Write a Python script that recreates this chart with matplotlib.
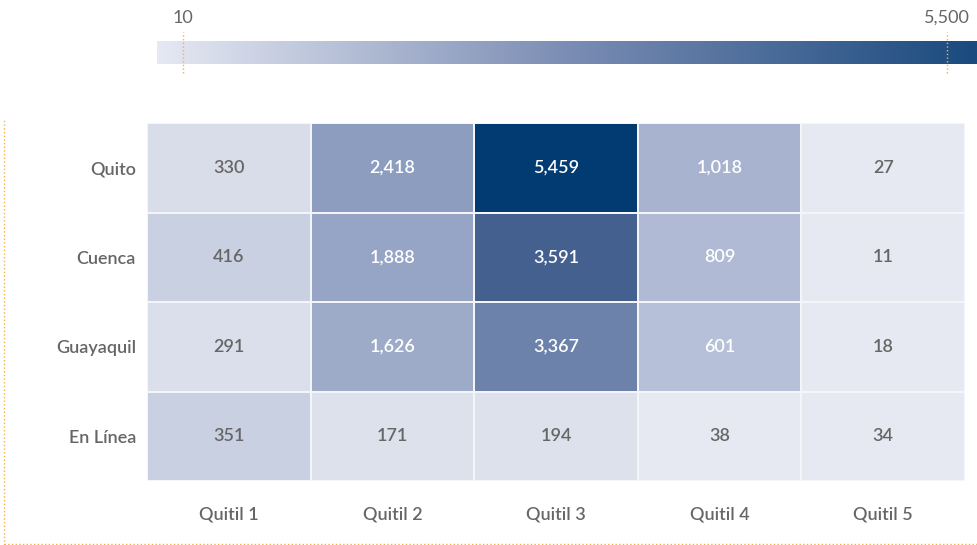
import numpy as np
import matplotlib
matplotlib.use("Agg")
import matplotlib.pyplot as plt
from matplotlib.colors import LinearSegmentedColormap, Normalize, to_rgb
from matplotlib.lines import Line2D

# ---- data ----
rows = ["Quito", "Cuenca", "Guayaquil", "En Línea"]
cols = ["Quitil 1", "Quitil 2", "Quitil 3", "Quitil 4", "Quitil 5"]
quito = [330, 2418, 5459, 1018, 27]
cuenca = [416, 1888, 3591, 809, 11]
guayaquil = [291, 1626, 3367, 601, 18]
en_linea = [351, 171, 194, 38, 34]
scale_min, scale_max = 10, 5500
scale_ticks = [10, 5500]

values = np.array([quito, cuenca, guayaquil, en_linea], dtype=float)

# ---- styles ----
W, H = 977, 545
font = ["Lato", "DejaVu Sans"]
label_color = "#666666"
dot_color = "#f2b33d"
weight = 600
fs = 13

cell_stops = [
    (0.000, "#e6e9f1"), (0.006, "#e6e9f1"), (0.028, "#dde1ec"),
    (0.050, "#dbdfeb"), (0.059, "#d9dde9"), (0.061, "#c9d0e2"),
    (0.075, "#c9d0e2"), (0.108, "#b6c0d8"), (0.146, "#b0bad4"),
    (0.184, "#a8b3cf"), (0.294, "#9eabc8"), (0.342, "#96a4c5"),
    (0.439, "#8d9dbf"), (0.611, "#6e82ab"), (0.652, "#43608f"),
    (1.000, "#003a70"),
]
cell_cmap = LinearSegmentedColormap.from_list("cells", cell_stops, N=4096)
bar_cmap = LinearSegmentedColormap.from_list(
    "bar", ["#e6e9f3", "#7b8db4", "#1a4a7e"])
norm = Normalize(vmin=scale_min, vmax=scale_max)

fig = plt.figure(figsize=(W / 100, H / 100), dpi=100)
fig.patch.set_facecolor("white")

def px_axes(x0, y0, x1, y1):
    return fig.add_axes([x0 / W, 1 - y1 / H, (x1 - x0) / W, (y1 - y0) / H])

# ---- heatmap ----
ax = px_axes(147, 123, 965, 481)
ax.pcolormesh(values, cmap=cell_cmap, norm=norm, edgecolors="#f4f5f9",
              linewidth=0.3)
ax.set_xlim(0, len(cols))
ax.set_ylim(len(rows), 0)
for s in ax.spines.values():
    s.set_visible(False)
ax.set_xticks(np.arange(len(cols)) + 0.5)
ax.set_xticklabels(cols, family=font, fontsize=fs, color=label_color,
                   fontweight=weight)
ax.set_yticks(np.arange(len(rows)) + 0.5)
ax.set_yticklabels(rows, family=font, fontsize=fs, color=label_color,
                   fontweight=weight)
ax.tick_params(length=0)
ax.tick_params(axis="x", pad=18)
ax.tick_params(axis="y", pad=8)

for i in range(len(rows)):
    for j in range(len(cols)):
        v = values[i, j]
        r, g, b = to_rgb(cell_cmap(norm(v)))
        lum = 0.299 * r + 0.587 * g + 0.114 * b
        tc = "white" if lum < 0.78 else label_color
        ax.text(j + 0.5, i + 0.5, f"{int(v):,}", ha="center", va="center",
                family=font, fontsize=fs, color=tc, fontweight=weight)

# ---- colour legend bar ----
cax = px_axes(157, 41, 977, 64)
per_px = (scale_max - scale_min) / (947 - 183)
x_lo = scale_min - (183 - 157) * per_px
x_hi = scale_max + (977 - 947) * per_px
grad = np.linspace(0, 1, 512)[None, :]
cax.imshow(grad, aspect="auto", cmap=bar_cmap, extent=[x_lo, x_hi, 0, 1])
cax.set_xlim(x_lo, x_hi)
cax.set_ylim(0, 1)
cax.set_yticks([])
for s in cax.spines.values():
    s.set_visible(False)
cax.xaxis.tick_top()
cax.set_xticks(scale_ticks)
cax.set_xticklabels([f"{t:,}" for t in scale_ticks], family=font,
                    fontsize=fs, color=label_color)
cax.tick_params(length=0, pad=11)
for t in scale_ticks:
    cax.plot([t, t], [-0.4, 1.4], color=dot_color, linestyle=":",
             linewidth=1, clip_on=False)

# ---- dotted frame ----
fig.add_artist(Line2D([4 / W, 4 / W], [1 - 545 / H, 1 - 120 / H],
                      color=dot_color, linestyle=":", linewidth=1))
fig.add_artist(Line2D([4 / W, 1], [1 - 543.5 / H, 1 - 543.5 / H],
                      color=dot_color, linestyle=":", linewidth=1))

fig.savefig("out.png", dpi=100)
